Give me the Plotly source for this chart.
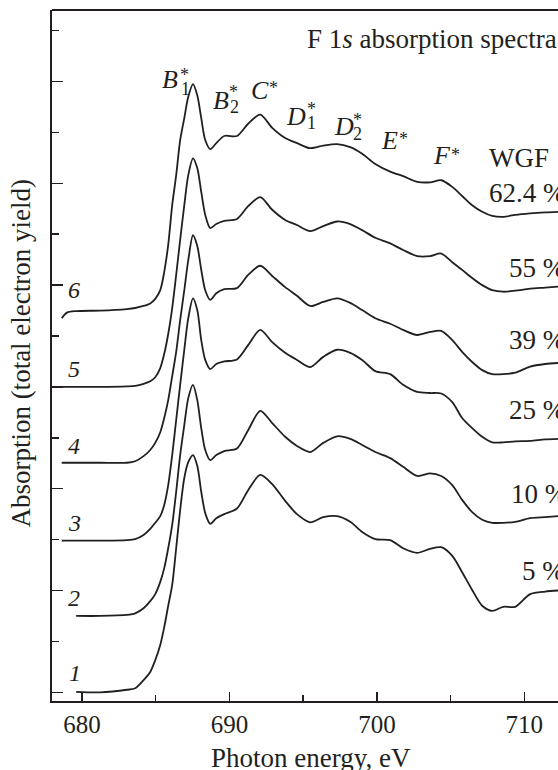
import plotly.graph_objects as go

# Photon energy grid (eV) shared by all spectra
energy = [678.63, 678.98, 679.61, 681.24, 683.05, 683.61, 684.18, 684.63, 684.97, 685.31,
          685.58, 685.85, 686.12, 686.39, 686.66, 686.94, 687.21, 687.53, 687.82, 688.09,
          688.36, 688.70, 689.11, 689.65, 690.51, 691.27, 692.09, 692.90, 693.78, 694.58,
          695.48, 696.36, 697.31, 698.19, 699.00, 699.89, 700.90, 701.78, 702.73, 703.61,
          704.36, 705.11, 705.78, 706.46, 707.14, 707.82, 708.56, 709.38, 710.39, 711.41,
          712.29]

# Absorption (offset, arbitrary units) for each WGF content
absorption_1 = [None, None, 0.01, 0.00, 0.05, 0.08, 0.24, 0.40, 0.63, 0.93,
                1.28, 1.70, 2.11, 2.83, 3.58, 4.21, 4.52, 4.66, 4.45, 3.94,
                3.52, 3.31, 3.42, 3.50, 3.61, 3.97, 4.27, 4.09, 3.76, 3.50,
                3.34, 3.44, 3.46, 3.35, 3.15, 3.01, 2.99, 2.83, 2.74, 2.82,
                2.85, 2.68, 2.36, 2.01, 1.70, 1.60, 1.68, 1.68, 1.93, 1.98,
                2.00]
absorption_2 = [None, None, 1.50, 1.50, 1.52, 1.55, 1.65, 1.79, 1.93, 2.17,
                2.44, 2.83, 3.29, 3.94, 4.66, 5.25, 5.78, 6.04, 5.74, 5.19,
                4.76, 4.56, 4.66, 4.74, 4.79, 5.15, 5.53, 5.29, 5.02, 4.84,
                4.72, 4.90, 5.03, 4.98, 4.86, 4.72, 4.60, 4.43, 4.25, 4.30,
                4.25, 4.07, 3.78, 3.54, 3.39, 3.33, 3.33, 3.35, 3.42, 3.44,
                3.46]
absorption_3 = [2.98, 2.98, 2.98, 2.98, 2.99, 3.01, 3.09, 3.21, 3.33, 3.46,
                3.68, 4.07, 4.66, 5.35, 6.04, 6.73, 7.35, 7.74, 7.51, 6.92,
                6.53, 6.35, 6.45, 6.50, 6.54, 6.82, 7.12, 6.88, 6.67, 6.53,
                6.39, 6.59, 6.73, 6.67, 6.53, 6.31, 6.25, 6.04, 5.90, 5.88,
                5.87, 5.70, 5.39, 5.19, 5.02, 4.91, 4.91, 4.93, 4.94, 4.97,
                4.98]
absorption_4 = [4.51, 4.51, 4.51, 4.51, 4.51, 4.54, 4.64, 4.76, 4.90, 5.11,
                5.39, 5.74, 6.21, 6.69, 7.31, 7.90, 8.49, 8.98, 8.77, 8.30,
                7.90, 7.71, 7.84, 7.92, 7.94, 8.20, 8.38, 8.18, 7.96, 7.79,
                7.59, 7.67, 7.74, 7.65, 7.51, 7.35, 7.24, 7.12, 7.02, 7.08,
                7.10, 6.92, 6.69, 6.49, 6.33, 6.25, 6.25, 6.28, 6.40, 6.45,
                6.47]
absorption_5 = [6.00, 6.00, 6.00, 6.00, 6.01, 6.02, 6.06, 6.11, 6.19, 6.37,
                6.65, 7.04, 7.55, 8.20, 8.89, 9.57, 10.16, 10.49, 10.30, 9.83,
                9.38, 9.12, 9.20, 9.26, 9.30, 9.55, 9.73, 9.48, 9.28, 9.18,
                9.06, 9.16, 9.25, 9.20, 9.08, 8.93, 8.82, 8.69, 8.57, 8.57,
                8.62, 8.45, 8.30, 8.14, 8.00, 7.90, 7.87, 7.89, 7.93, 7.95,
                7.97]
absorption_6 = [7.35, 7.46, 7.49, 7.50, 7.53, 7.55, 7.59, 7.64, 7.73, 7.90,
                8.26, 8.79, 9.57, 10.16, 10.85, 11.28, 11.70, 11.95, 11.73, 11.28,
                10.85, 10.67, 10.79, 10.93, 10.93, 11.17, 11.35, 11.09, 10.89, 10.79,
                10.69, 10.74, 10.77, 10.71, 10.58, 10.38, 10.23, 10.14, 10.03, 10.02,
                10.06, 9.93, 9.75, 9.57, 9.44, 9.36, 9.34, 9.38, 9.41, 9.43,
                9.44]

curve_numbers = ["1", "2", "3", "4", "5", "6"]
wgf_labels = ["5 %", "10 %", "25 %", "39 %", "55 %", "62.4 %"]
x_ticks = [680, 690, 700, 710]
x_minor_ticks = [685, 695, 705]
y_major_ticks = [0, 2, 4, 6, 8, 10, 12]
y_minor_ticks = [1, 3, 5, 7, 9, 11, 13]

INK = "#231f20"
FONT = "Liberation Serif, Times New Roman, serif"

fig = go.Figure()
for ys in [absorption_1, absorption_2, absorption_3, absorption_4, absorption_5, absorption_6]:
    fig.add_trace(go.Scatter(
        x=energy, y=ys, mode="lines",
        line=dict(color=INK, width=1.8, shape="spline", smoothing=0.8),
        hoverinfo="skip", showlegend=False))

annotations = []


def ann(x, y, text, size, xanchor="center", xref="x", yref="y", angle=0):
    annotations.append(dict(
        x=x, y=y, xref=xref, yref=yref, text=text, showarrow=False,
        xanchor=xanchor, yanchor="middle", textangle=angle,
        font=dict(family=FONT, size=size, color=INK)))


# peak labels
ann(685.99, 12.03, "<i>B</i>", 26)
ann(687.00, 11.85, "1", 18)
ann(686.94, 12.13, "*", 18)
ann(689.44, 11.63, "<i>B</i>", 26)
ann(690.33, 11.50, "2", 18)
ann(690.29, 11.79, "*", 18)
ann(692.09, 11.83, "<i>C</i>", 26)
ann(692.97, 11.87, "*", 18)
ann(694.53, 11.31, "<i>D</i>", 26)
ann(695.55, 11.19, "1", 18)
ann(695.55, 11.46, "*", 18)
ann(697.78, 11.12, "<i>D</i>", 26)
ann(698.70, 10.97, "2", 18)
ann(698.70, 11.24, "*", 18)
ann(700.83, 10.85, "<i>E</i>", 26)
ann(701.78, 10.87, "*", 18)
ann(704.43, 10.54, "<i>F</i>", 26)
ann(705.31, 10.56, "*", 18)

# title-like label
ann(695.14, 12.84, "F 1<i>s</i> absorption spectra", 27, xanchor="left")

# WGF content labels
ann(707.48, 10.50, "WGF", 27, xanchor="left")
wgf_pos = [(709.72, 2.38), (708.97, 3.90), (708.81, 5.55), (708.81, 6.92),
           (708.81, 8.34), (707.48, 9.81)]
for (px, py), lab in zip(wgf_pos, wgf_labels):
    ann(px, py, lab, 27, xanchor="left")

# curve numbers
num_pos = [(679.55, 0.38), (679.48, 1.85), (679.48, 3.33), (679.48, 4.84),
           (679.48, 6.35), (679.48, 7.90)]
for (px, py), lab in zip(num_pos, curve_numbers):
    ann(px, py, "<i>" + lab + "</i>", 24)

# axis titles
ann(0.511, -0.0825, "Photon energy, eV", 27, xref="paper", yref="paper")
ann(-0.0615, 0.504, "Absorption (total electron yield)", 27, xref="paper", yref="paper", angle=-90)

fig.update_layout(
    width=558, height=770,
    margin=dict(l=52, r=0, t=10, b=69),
    paper_bgcolor="white", plot_bgcolor="white",
    font=dict(family=FONT, color=INK),
    showlegend=False,
    annotations=annotations,
)
fig.update_xaxes(
    range=[677.97, 712.28], showline=True, linecolor=INK, linewidth=2,
    ticks="inside", tickvals=x_ticks, ticklen=9, tickwidth=1.5, tickcolor=INK,
    minor=dict(tickvals=x_minor_ticks, ticks="inside", ticklen=6, tickwidth=1.5,
               tickcolor=INK, showgrid=False),
    tickfont=dict(family=FONT, size=25, color=INK),
    showgrid=False, zeroline=False,
)
fig.update_yaxes(
    range=[-0.171, 13.405], showline=True, linecolor=INK, linewidth=2,
    ticks="inside", tickvals=y_major_ticks, ticklen=11, tickwidth=1.5, tickcolor=INK,
    minor=dict(tickvals=y_minor_ticks, ticks="inside", ticklen=7, tickwidth=1.5,
               tickcolor=INK, showgrid=False),
    showticklabels=False, showgrid=False, zeroline=False,
)
fig.add_shape(type="line", xref="paper", yref="paper", x0=0, x1=1, y0=1, y1=1,
              line=dict(color=INK, width=2))

fig.write_html(
    "out.html",
    config={"displayModeBar": False, "staticPlot": True},
    post_script="document.body.style.margin='0px';document.body.style.overflow='hidden';",
)
